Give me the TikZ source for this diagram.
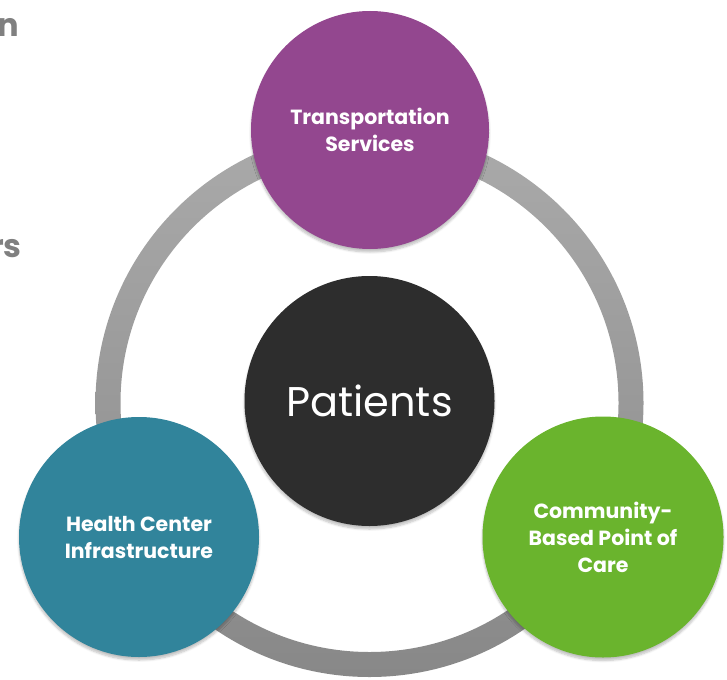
\documentclass[tikz,border=0pt]{standalone}
\usepackage{fontspec}
\setmainfont{Poppins}
\usetikzlibrary{shadows.blur}

\definecolor{ringtop}{RGB}{170,170,170}
\definecolor{ringbot}{RGB}{136,136,136}
\definecolor{transpurple}{RGB}{147,71,143}
\definecolor{healthteal}{RGB}{49,132,155}
\definecolor{caregreen}{RGB}{106,180,45}
\definecolor{patientblack}{RGB}{45,45,45}
\definecolor{fraggray}{RGB}{128,128,128}

\tikzset{
  bubble/.style={circle, inner sep=0pt, align=center, text=white,
    blur shadow={shadow xshift=0pt, shadow yshift=-3pt, shadow opacity=25, shadow blur steps=6}},
  bubbletext/.style={font=\bfseries\fontsize{20.5}{27}\selectfont},
  fragtext/.style={anchor=base east, inner xsep=0pt, font=\bfseries\fontsize{32}{38}\selectfont, text=fraggray},
}

\begin{document}
\begin{tikzpicture}[x=1pt,y=1pt,yscale=-1,xscale=1]
\useasboundingbox (0,0) rectangle (727,679);

% Text Node
\node [fragtext] (fragn) at (19,37) {n};
% Text Node
\node [fragtext] (fragrs) at (22,257) {rs};

%Shape: Ring
\shade [top color=ringtop, bottom color=ringbot, even odd rule] (369.5,403) circle (274) (369.5,403) circle (249);

%Shape: Circle
\node [bubble, fill=patientblack, minimum size=250, font=\fontsize{41.5}{48}\selectfont] (patients) at (369.5,401) {Patients};
%Shape: Circle
\node [bubble, bubbletext, fill=transpurple, minimum size=238] (transport) at (370,130) {Transportation\\Services};
%Shape: Circle
\node [bubble, bubbletext, fill=healthteal, minimum size=240] (health) at (139,537) {Health Center\\Infrastructure};
%Shape: Circle
\node [bubble, bubbletext, fill=caregreen, minimum size=241] (community) at (603,537) {Community-\\Based Point of\\Care};

\end{tikzpicture}
\end{document}
